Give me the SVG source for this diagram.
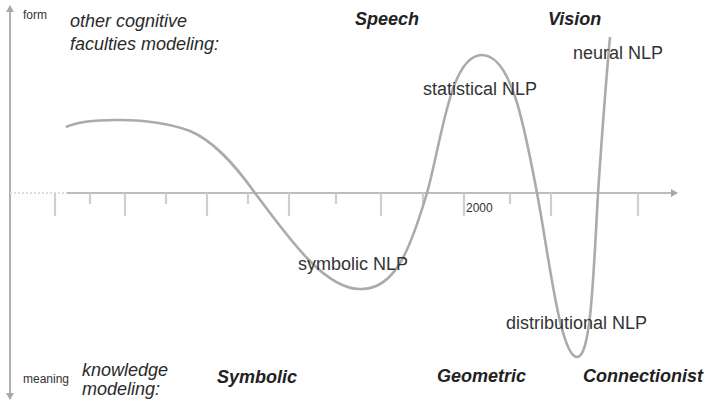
<svg xmlns="http://www.w3.org/2000/svg" width="708" height="405" viewBox="0 0 708 405">
<style>
.ax{stroke:#bdbdbd;stroke-width:2;fill:none}
.tk{stroke:#cfcfcf;stroke-width:2.2}
.cv{stroke:#ababab;stroke-width:2.6;fill:none}
.sm{font-family:"Liberation Sans",Arial,sans-serif;font-size:12px;fill:#333}
.it{font-family:"Liberation Sans",Arial,sans-serif;font-size:18px;font-style:italic;fill:#2a2a2a}
.bi{font-family:"Liberation Sans",Arial,sans-serif;font-size:18px;font-style:italic;font-weight:bold;fill:#222}
.lb{font-family:"Liberation Sans",Arial,sans-serif;font-size:18px;fill:#333}
</style>
<defs>
<marker id="ah" markerWidth="8" markerHeight="8" refX="6" refY="4" orient="auto" markerUnits="userSpaceOnUse">
<path d="M0,0 L7,4 L0,8 z" fill="#a8a8a8"/>
</marker>
</defs>
<rect width="708" height="405" fill="#ffffff"/>
<g id="connectors">
<line class="ax" x1="10" y1="200" x2="10" y2="6" marker-end="url(#ah)" style="stroke:#b0b0b0"/>
<line class="ax" x1="10" y1="200" x2="10" y2="399" marker-end="url(#ah)" style="stroke:#b0b0b0"/>
<line x1="10" y1="193" x2="67" y2="193" stroke="#dcdcdc" stroke-width="2" stroke-dasharray="2,2"/>
<line class="ax" x1="67" y1="193" x2="677" y2="193" marker-end="url(#ah)"/>
<g id="ticks">
<line class="tk" x1="55" y1="193" x2="55" y2="216"/>
<line class="tk" x1="90" y1="193" x2="90" y2="204"/>
<line class="tk" x1="125" y1="193" x2="125" y2="216"/>
<line class="tk" x1="166" y1="193" x2="166" y2="204"/>
<line class="tk" x1="207" y1="193" x2="207" y2="216"/>
<line class="tk" x1="248" y1="193" x2="248" y2="204"/>
<line class="tk" x1="289" y1="193" x2="289" y2="216"/>
<line class="tk" x1="336" y1="193" x2="336" y2="204"/>
<line class="tk" x1="381" y1="193" x2="381" y2="216"/>
<line class="tk" x1="423" y1="193" x2="423" y2="204"/>
<line class="tk" x1="464" y1="193" x2="464" y2="216"/>
<line class="tk" x1="510" y1="193" x2="510" y2="204"/>
<line class="tk" x1="551" y1="193" x2="551" y2="216"/>
<line class="tk" x1="638" y1="193" x2="638" y2="216"/>
</g>
<path id="curve" class="cv" d="M66,127 C85,118 150,116 190,131 C214,141 235,165 255,193 C290,240 325,289 360,289 C395,290 410,250 427,193 C442,140 450,55 482,55 C512,55 525,130 537,193 C548,250 560,357 577,357 C590,357 593,290 598,193 C603,120 607,70 610,37"/>
</g>
<g id="axis-labels">
<text class="sm" x="23" y="19">form</text>
<text class="sm" x="23" y="383">meaning</text>
<text class="sm" x="466" y="212">2000</text>
</g>
<g id="rows">
<text class="it" x="70" y="27">other cognitive</text>
<text class="it" x="70" y="50">faculties modeling:</text>
<text class="it" x="82" y="376">knowledge</text>
<text class="it" x="82" y="395">modeling:</text>
</g>
<g id="fields">
<text class="bi" x="355" y="25">Speech</text>
<text class="bi" x="548" y="25">Vision</text>
<text class="bi" x="217" y="383">Symbolic</text>
<text class="bi" x="437" y="382">Geometric</text>
<text class="bi" x="583" y="382">Connectionist</text>
</g>
<g id="eras">
<text class="lb" x="573" y="59">neural NLP</text>
<text class="lb" x="423" y="95">statistical NLP</text>
<text class="lb" x="298" y="270">symbolic NLP</text>
<text class="lb" x="506" y="329">distributional NLP</text>
</g>
</svg>
